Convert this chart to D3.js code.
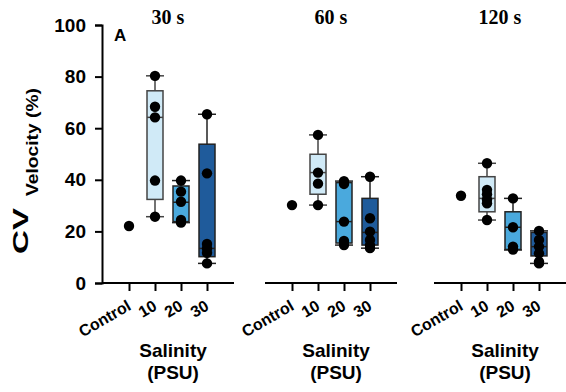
<!DOCTYPE html>
<html>
<head>
<meta charset="utf-8">
<script src="https://cdn.jsdelivr.net/npm/d3@7"></script>
<style>
  body { margin: 0; background: #fff; }
  text { font-family: "Liberation Sans", Arial, sans-serif; font-weight: bold; fill: #000; }
</style>
</head>
<body>
<div id="chart"></div>
<script>
// categories and panels
var categories = ["Control", "10", "20", "30"];
var timeLabels = ["30 s", "60 s", "120 s"];
var yTicks = [0, 20, 40, 60, 80, 100];

// individual points, one list per category (Control, 10, 20, 30)
var points30s  = [[22.1], [80.3, 68.3, 64.2, 39.7, 25.7], [39.7, 35.4, 31.5, 24.4, 23.4], [65.4, 42.5, 15.1, 13.4, 11.7, 7.6]];
var points60s  = [[30.2], [57.4, 42.8, 38.5, 30.2], [39.5, 38.4, 23.8, 16.3, 14.7], [41.2, 25.1, 19.9, 16.7, 14.7, 13.5]];
var points120s = [[33.8], [46.4, 36.1, 34.4, 32.4, 30.9, 24.4], [32.8, 21.6, 14.1, 13.0], [20.2, 16.7, 14.1, 11.5, 8.3, 7.6]];

// box stats [min, q1, median, q3, max]; control has no box
var box30s  = [null, [25.7, 32.4, 64.2, 74.5, 80.3], [23.4, 23.8, 31.3, 37.6, 39.7], [7.6, 10.2, 13.4, 53.8, 65.4]];
var box60s  = [null, [30.2, 34.4, 42.8, 49.9, 57.4], [14.7, 15.5, 23.8, 38.9, 39.5], [13.5, 14.7, 19.6, 32.8, 41.2]];
var box120s = [null, [24.4, 27.6, 32.8, 41.2, 46.4], [12.8, 13.0, 21.6, 27.6, 32.8], [7.6, 10.5, 14.1, 19.6, 20.2]];

var boxFill = [null, "#d0eaf7", "#4aa9dd", "#1f5b9b"];
var boxStroke = [null, "#444", "#222", "#222"];

var width = 566, height = 392;
var panelLeft = [102, 265, 434];
var panelWidth = 132;
var allPoints = [points30s, points60s, points120s];
var allBoxes = [box30s, box60s, box120s];

var svg = d3.select("#chart").append("svg")
  .attr("width", width)
  .attr("height", height);

var y = d3.scaleLinear().domain([0, 100]).range([283, 25]);

// y axis (first panel only)
var yAxis = svg.append("g")
  .attr("transform", "translate(" + panelLeft[0] + ",0)")
  .call(d3.axisLeft(y).tickValues(yTicks).tickSize(7).tickPadding(9));
yAxis.select(".domain").attr("stroke", "#000").attr("stroke-width", 2);
yAxis.selectAll(".tick line").attr("stroke", "#000").attr("stroke-width", 2);
yAxis.selectAll(".tick text").style("font-size", "19px").attr("fill", "#000");

// y label: CV with subscript
svg.append("text")
  .attr("transform", "translate(28,254) rotate(-90)")
  .attr("textLength", 46).attr("lengthAdjust", "spacingAndGlyphs")
  .style("font-size", "22px")
  .text("CV");
svg.append("text")
  .attr("transform", "translate(38,196) rotate(-90)")
  .attr("textLength", 108).attr("lengthAdjust", "spacingAndGlyphs")
  .style("font-size", "17px")
  .text("Velocity (%)");

svg.append("text")
  .attr("x", 114).attr("y", 41)
  .style("font-size", "17px")
  .text("A");

timeLabels.forEach(function(label, p) {
  var left = panelLeft[p];
  var x = d3.scalePoint().domain(categories).range([left + 27, left + 105]);
  var g = svg.append("g");
  var pts = allPoints[p], boxes = allBoxes[p];
  var mid = (x(categories[0]) + x(categories[3])) / 2;

  // title
  g.append("text")
    .attr("x", mid).attr("y", 24)
    .attr("text-anchor", "middle")
    .style("font-family", "'Liberation Serif', 'Times New Roman', serif")
    .style("font-size", "20px")
    .text(label);

  // x axis
  var xAxis = g.append("g")
    .attr("transform", "translate(0,283)")
    .call(d3.axisBottom(x).tickSize(8).tickFormat(""));
  xAxis.select(".domain").attr("d", "M" + left + ",0H" + Math.min(left + panelWidth, width))
    .attr("stroke", "#000").attr("stroke-width", 2);
  xAxis.selectAll(".tick line").attr("stroke", "#000").attr("stroke-width", 2);

  g.selectAll(".xlab")
    .data(categories)
    .enter().append("text")
    .attr("class", "xlab")
    .attr("transform", function(d) { return "translate(" + (x(d) + 3) + ",309) rotate(-30)"; })
    .attr("text-anchor", "end")
    .style("font-size", "16px")
    .text(function(d) { return d; });

  g.append("text")
    .attr("x", mid + 5).attr("y", 357)
    .attr("text-anchor", "middle")
    .style("font-size", "19px")
    .text("Salinity");
  g.append("text")
    .attr("x", mid + 5).attr("y", 379)
    .attr("text-anchor", "middle")
    .style("font-size", "19px")
    .text("(PSU)");

  // boxes
  categories.forEach(function(c, i) {
    var b = boxes[i];
    var cx = x(c);
    if (b) {
      var bw = 16, cw = 18;
      var col = boxStroke[i];
      g.append("line").attr("x1", cx).attr("x2", cx).attr("y1", y(b[0])).attr("y2", y(b[4]))
        .attr("stroke", col).attr("stroke-width", 1.5);
      g.append("rect")
        .attr("x", cx - bw / 2).attr("width", bw)
        .attr("y", y(b[3])).attr("height", y(b[1]) - y(b[3]))
        .attr("fill", boxFill[i]).attr("stroke", col).attr("stroke-width", 1.5);
      g.append("line").attr("x1", cx - bw / 2).attr("x2", cx + bw / 2).attr("y1", y(b[2])).attr("y2", y(b[2]))
        .attr("stroke", col).attr("stroke-width", 1.5);
      [b[0], b[4]].forEach(function(v) {
        g.append("line").attr("x1", cx - cw / 2).attr("x2", cx + cw / 2).attr("y1", y(v)).attr("y2", y(v))
          .attr("stroke", col).attr("stroke-width", 1.5);
      });
    }
    g.selectAll(".dot" + i)
      .data(pts[i])
      .enter().append("circle")
      .attr("cx", cx)
      .attr("cy", function(d) { return y(d); })
      .attr("r", 5.2)
      .attr("fill", "#000");
  });
});
</script>
</body>
</html>
